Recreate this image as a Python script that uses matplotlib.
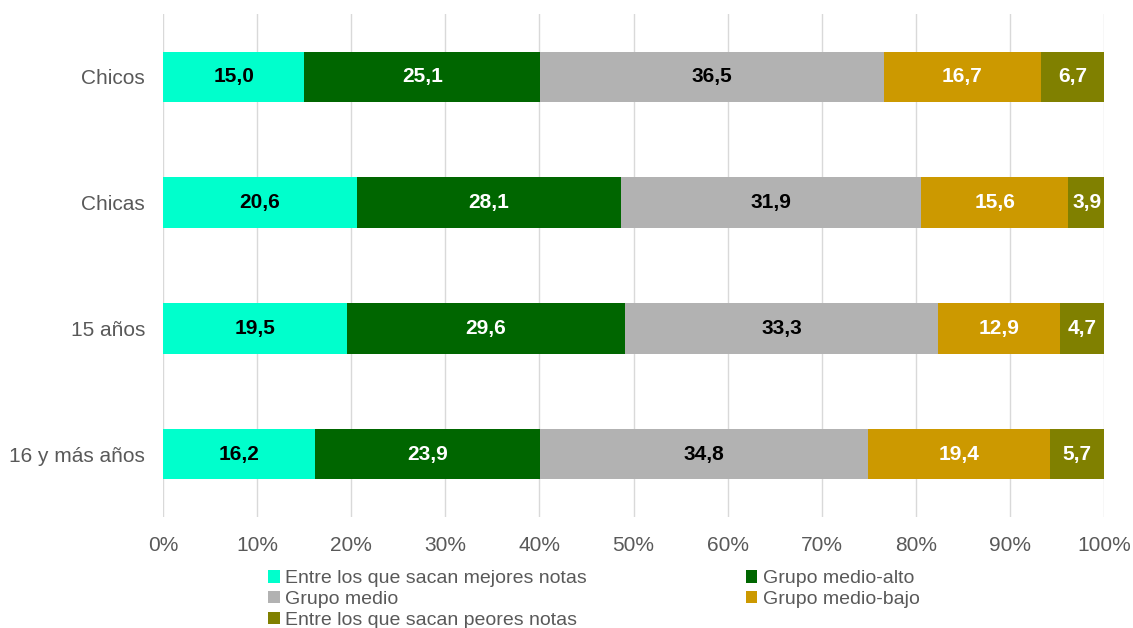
import numpy as np
import matplotlib.pyplot as plt

plt.rcParams['font.family'] = ['Liberation Sans', 'DejaVu Sans']

categories = ['Chicos', 'Chicas', '15 años', '16 y más años']
series_names = ['Entre los que sacan mejores notas', 'Grupo medio-alto',
                'Grupo medio', 'Grupo medio-bajo',
                'Entre los que sacan peores notas']
mejores = [15.0, 20.6, 19.5, 16.2]
medio_alto = [25.1, 28.1, 29.6, 23.9]
medio = [36.5, 31.9, 33.3, 34.8]
medio_bajo = [16.7, 15.6, 12.9, 19.4]
peores = [6.7, 3.9, 4.7, 5.7]

colors = ['#00FFCC', '#006600', '#B2B2B2', '#CC9900', '#808000']
text_colors = ['black', 'white', 'black', 'white', 'white']

fig = plt.figure(figsize=(11.33, 6.28), dpi=100)
ax = fig.add_axes([0.1439, 0.1768, 0.8305, 0.8009])

y = np.arange(len(categories))
left = np.zeros(len(categories))
handles = []
for vals, name, c, tc in zip([mejores, medio_alto, medio, medio_bajo, peores],
                             series_names, colors, text_colors):
    vals = np.array(vals)
    h = ax.barh(y, vals, left=left, height=0.4, color=c, label=name, zorder=3)
    handles.append(h)
    for yi, l, v in zip(y, left, vals):
        ax.text(l + v / 2, yi, f'{v:.1f}'.replace('.', ','), ha='center',
                va='center', color=tc, fontsize=15, fontweight='bold', zorder=4)
    left = left + vals

ax.set_xlim(0, 100)
ax.set_ylim(3.5, -0.5)
ax.set_yticks(y)
ax.set_yticklabels(categories, fontsize=15, color='#595959')
ax.set_xticks(np.arange(0, 101, 10))
ax.set_xticklabels([f'{t}%' for t in range(0, 101, 10)], fontsize=15, color='#595959')
ax.tick_params(axis='y', length=0, pad=13)
ax.tick_params(axis='x', length=0, pad=14)
ax.xaxis.grid(True, color='#D9D9D9', linewidth=1, zorder=0)
for s in ax.spines.values():
    s.set_visible(False)

# orden para que la leyenda se lea por filas
order = [0, 2, 4, 1, 3]
fig.legend([handles[i] for i in order], [series_names[i] for i in order],
           ncol=2, loc='upper left', bbox_to_anchor=(0.2365, 0.092), frameon=False,
           fontsize=14, handlelength=0.6, handleheight=0.6, handletextpad=0.3,
           labelspacing=0.2, columnspacing=8.15, labelcolor='#595959',
           borderpad=0, borderaxespad=0)

fig.savefig('out.png', dpi=100)
